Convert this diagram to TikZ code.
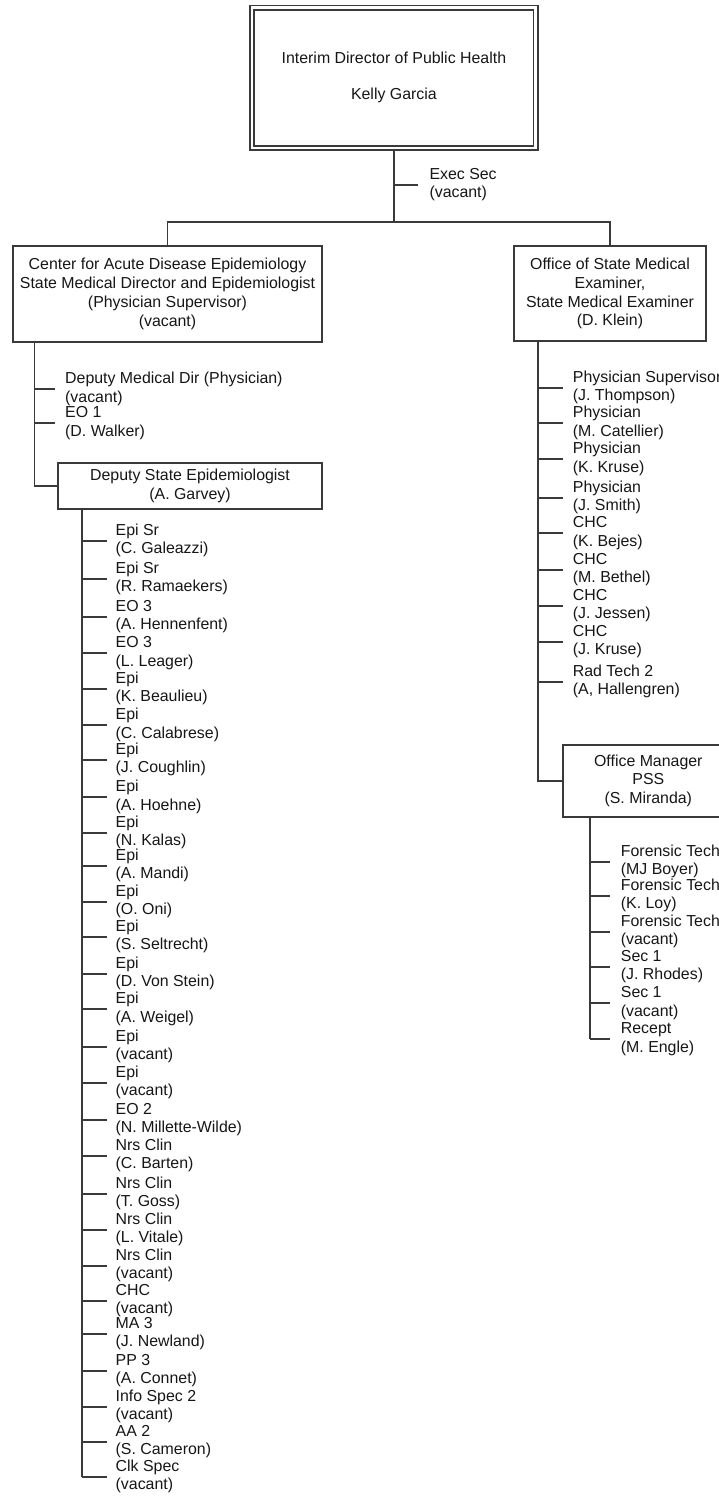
\documentclass[tikz,border=0pt]{standalone}
\usepackage{fontspec}
\setmainfont{Liberation Sans}
\definecolor{linec}{RGB}{58,58,58}
\definecolor{textc}{RGB}{22,22,22}
\newcommand{\twoline}[2]{\begin{tabular}{@{}l@{}}#1\\#2\end{tabular}}
\begin{document}
\begin{tikzpicture}[x=1pt,y=-1pt,
  every node/.style={text=textc},
  box/.style={draw=linec, line width=1.8pt, inner sep=0pt, align=center,
    font=\fontsize{15.9}{18.9}\selectfont},
  entry/.style={anchor=west, inner ysep=0pt, font=\fontsize{15.9}{18.3}\selectfont},
  conn/.style={draw=linec, line width=1.8pt}]
\useasboundingbox (0,0) rectangle (719,1496);
\clip (0,0) rectangle (719,1496);

% top
\node[box, double, double distance=2.6pt, line width=1.6pt,
  minimum width=283.6pt, minimum height=140pt] (top) at (393.9,77.8)
  {Interim Director of Public Health\\[17.1pt]Kelly Garcia};
\coordinate (bus) at (393.9,221.7);
\node[entry, inner xsep=11pt] (exec) at (418.3,185) {\twoline{Exec Sec}{(vacant)}};
\draw[conn] (top.south) -- (bus);
\draw[conn] (top.south |- exec.west) -- (exec.west);

% second level
\node[box, minimum width=309.6pt, minimum height=95.7pt] (cade) at (167.5,293.85)
  {Center for Acute Disease Epidemiology\\State Medical Director and Epidemiologist\\(Physician Supervisor)\\(vacant)};
\node[box, minimum width=192pt, minimum height=95pt] (osme) at (610,293.5)
  {Office of State Medical\\Examiner,\\State Medical Examiner\\(D. Klein)};
\draw[conn] (cade.north) |- (bus) -| (osme.north);

% CADE branch
\coordinate (cx) at (34.5,0);
\node[entry, inner xsep=10pt] (dmd) at (55,389.3) {\twoline{Deputy Medical Dir (Physician)}{(vacant)}};
\node[entry, inner xsep=10pt] (eo1) at (55,423.3) {\twoline{EO 1}{(D. Walker)}};
\node[box, minimum width=263.4pt, minimum height=46.6pt,
  font=\fontsize{15.9}{18.3}\selectfont] (dse) at (190,486)
  {Deputy State Epidemiologist\\(A. Garvey)};
\draw[conn] (cx |- cade.south) |- (dse.west);
\draw[conn] (cx |- dmd.west) -- (dmd.west);
\draw[conn] (cx |- eo1.west) -- (eo1.west);

% Deputy State Epidemiologist list
\coordinate (lx) at (81.7,0);
\foreach \yy/\aa/\bb [count=\i] in {
  540.7/Epi Sr/(C. Galeazzi),
  579/Epi Sr/(R. Ramaekers),
  616.7/EO 3/(A. Hennenfent),
  653.3/EO 3/(L. Leager),
  689/Epi/(K. Beaulieu),
  725.3/Epi/(C. Calabrese),
  760/Epi/(J. Coughlin),
  797.3/Epi/(A. Hoehne),
  832.7/Epi/(N. Kalas),
  866/Epi/(A. Mandi),
  901.7/Epi/(O. Oni),
  936.7/Epi/(S. Seltrecht),
  974/Epi/(D. Von Stein),
  1009.3/Epi/(A. Weigel),
  1046.7/Epi/(vacant),
  1082.7/Epi/(vacant),
  1120/EO 2/(N. Millette-Wilde),
  1155.7/Nrs Clin/(C. Barten),
  1194/Nrs Clin/(T. Goss),
  1230/Nrs Clin/(L. Vitale),
  1265.7/Nrs Clin/(vacant),
  1300.7/CHC/(vacant),
  1334/MA 3/(J. Newland),
  1371/PP 3/(A. Connet),
  1406.7/Info Spec 2/(vacant),
  1441.7/AA 2/(S. Cameron),
  1476.7/Clk Spec/(vacant)} {
  \node[entry, inner xsep=8.8pt] (l\i) at (106.7,\yy) {\twoline{\aa}{\bb}};
  \draw[conn] (lx |- l\i.west) -- (l\i.west);
}
\draw[conn] (lx |- dse.south) -- (lx |- l27.west);

% OSME branch
\coordinate (rx) at (538.3,0);
\foreach \yy/\aa/\bb [count=\i] in {
  387.7/Physician Supervisor/(J. Thompson),
  423.3/Physician/(M. Catellier),
  459.3/Physician/(K. Kruse),
  497.7/Physician/(J. Smith),
  533.3/CHC/(K. Bejes),
  570/CHC/(M. Bethel),
  606/CHC/(J. Jessen),
  641.7/CHC/(J. Kruse),
  681.7/Rad Tech 2/{(A, Hallengren)}} {
  \node[entry, inner xsep=10pt] (r\i) at (562.7,\yy) {\twoline{\aa}{\bb}};
  \draw[conn] (rx |- r\i.west) -- (r\i.west);
}
\node[box, minimum width=170pt, minimum height=71.7pt] (om) at (648.3,780.8)
  {Office Manager\\PSS\\(S. Miranda)};
\draw[conn] (rx |- osme.south) |- (om.west);

% Office Manager list
\coordinate (ox) at (590,0);
\foreach \yy/\aa/\bb [count=\i] in {
  861.7/Forensic Tech/(MJ Boyer),
  895.7/Forensic Tech/(K. Loy),
  931.7/Forensic Tech/(vacant),
  966.7/Sec 1/(J. Rhodes),
  1003.3/Sec 1/(vacant),
  1039.3/Recept/(M. Engle)} {
  \node[entry, inner xsep=10.7pt] (o\i) at (610,\yy) {\twoline{\aa}{\bb}};
  \draw[conn] (ox |- o\i.west) -- (o\i.west);
}
\draw[conn] (ox |- om.south) -- (ox |- o6.west);
\end{tikzpicture}
\end{document}
